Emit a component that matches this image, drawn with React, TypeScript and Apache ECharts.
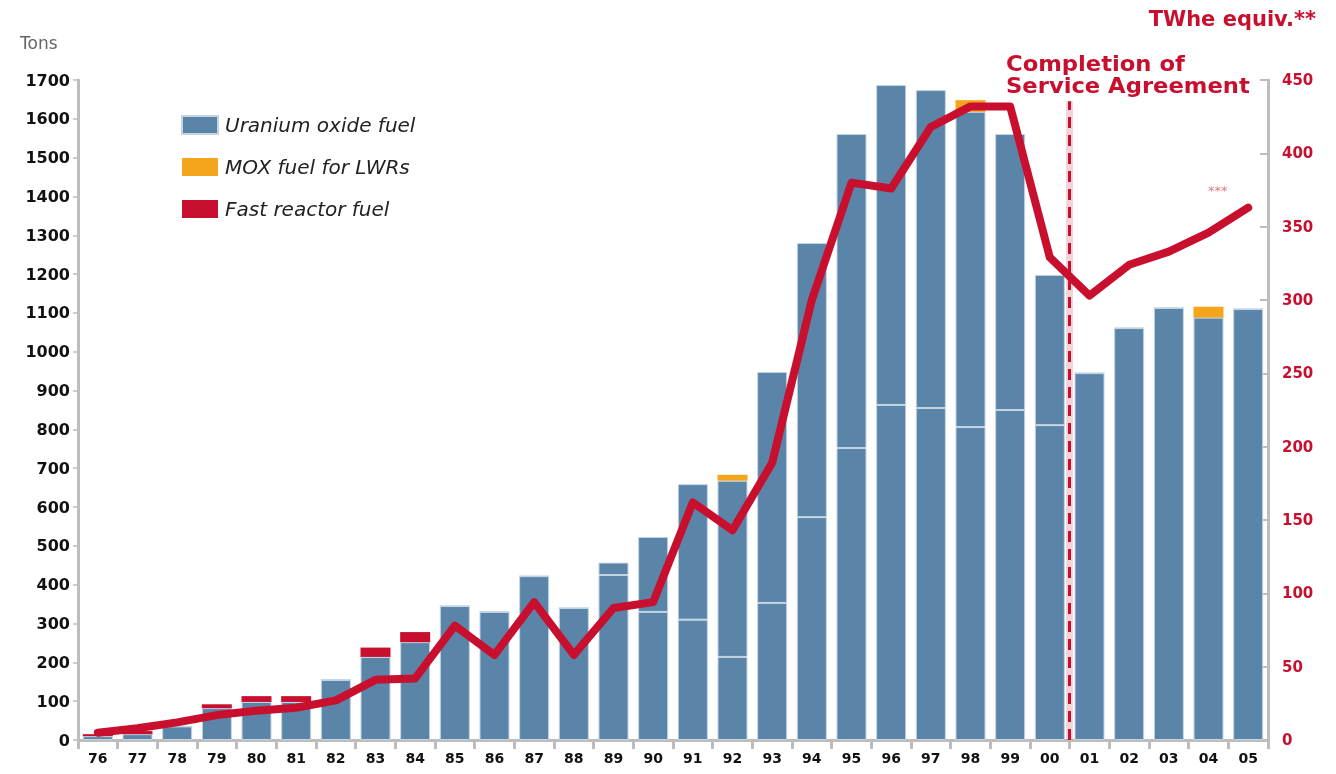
import React, { useEffect, useRef } from 'react';
import * as echarts from 'echarts';

const years = ['76', '77', '78', '79', '80', '81', '82', '83', '84', '85', '86', '87', '88', '89', '90', '91', '92', '93', '94', '95', '96', '97', '98', '99', '00', '01', '02', '03', '04', '05'];

// Tons (left axis)
const uraniumOxide = [10, 15, 35, 82, 98, 98, 155, 214, 252, 345, 330, 422, 340, 457, 523, 659, 668, 948, 1280, 1561, 1687, 1674, 1618, 1561, 1198, 945, 1061, 1113, 1088, 1110];
const uraniumSplit: (number | null)[] = [null, null, null, null, null, null, null, null, null, null, null, null, null, 425, 330, 310, 214, 353, 574, 752, 863, 855, 806, 850, 811, null, null, null, null, null];
const moxFuel = [0, 0, 0, 0, 0, 0, 0, 0, 0, 0, 0, 0, 0, 0, 0, 0, 15, 0, 0, 0, 0, 0, 30, 0, 0, 0, 0, 0, 28, 0];
const fastReactorFuel = [5, 8, 0, 10, 15, 15, 0, 24, 26, 0, 0, 0, 0, 0, 0, 0, 0, 0, 0, 0, 0, 0, 0, 0, 0, 0, 0, 0, 0, 0];

// TWhe equiv. (right axis)
const twheEquiv = [5, 8, 12, 17, 20, 22, 27, 41, 42, 78, 58, 94, 58, 90, 94, 162, 143, 189, 300, 380, 376, 418, 432, 432, 329, 303, 324, 333, 346, 363];

const leftTicks = { min: 0, max: 1700, interval: 100 };
const rightTicks = { min: 0, max: 450, interval: 50 };
const agreementPosition = 24.5; // between '00' and '01'

const BLUE = '#5a84a8';
const ORANGE = '#f4a51c';
const RED = '#c8102e';
const AXIS = '#bdbdbd';
const FONT = '"DejaVu Sans", "Liberation Sans", Arial, sans-serif';

export default function App() {
  const ref = useRef<HTMLDivElement>(null);

  useEffect(() => {
    const chart = echarts.init(ref.current!, null, { renderer: 'svg' });
    const uLower = uraniumOxide.map((v, i) => (uraniumSplit[i] != null ? (uraniumSplit[i] as number) : v));
    const uUpper = uraniumOxide.map((v, i) => (uraniumSplit[i] != null ? v - (uraniumSplit[i] as number) : 0));
    const blueStyle = { color: BLUE, borderColor: '#c3d4e3', borderWidth: 1 };

    chart.setOption({
      animation: false,
      textStyle: { fontFamily: FONT },
      grid: { left: 78, right: 68, top: 80, bottom: 34, containLabel: false },
      legend: {
        left: 176,
        top: 110,
        orient: 'vertical',
        icon: 'rect',
        itemWidth: 36,
        itemHeight: 18,
        itemGap: 22,
        data: ['Uranium oxide fuel', 'MOX fuel for LWRs', 'Fast reactor fuel'],
        textStyle: { fontStyle: 'italic', fontSize: 20, color: '#222', fontFamily: FONT, padding: [0, 0, 0, 2] },
      },
      xAxis: [
        {
          type: 'category',
          data: years,
          axisLine: { lineStyle: { color: AXIS, width: 3 } },
          axisTick: { show: true, length: 9, lineStyle: { color: AXIS, width: 3 } },
          axisLabel: { color: '#111', fontWeight: 'bold', fontSize: 14, margin: 11, fontFamily: FONT },
        },
        { type: 'value', min: -0.5, max: 29.5, show: false },
      ],
      yAxis: [
        {
          type: 'value',
          min: leftTicks.min,
          max: leftTicks.max,
          interval: leftTicks.interval,
          axisLine: { show: true, onZero: false, lineStyle: { color: AXIS, width: 3 } },
          axisTick: { show: true, length: 5, lineStyle: { color: AXIS, width: 1.5 } },
          splitLine: { show: false },
          axisLabel: {
            color: '#111',
            fontWeight: 'bold',
            fontSize: 16,
            margin: 8,
            fontFamily: FONT,
            formatter: (v: number) => String(v),
          },
        },
        {
          type: 'value',
          position: 'right',
          min: rightTicks.min,
          max: rightTicks.max,
          interval: rightTicks.interval,
          axisLine: { show: true, onZero: false, lineStyle: { color: AXIS, width: 3 } },
          axisTick: { show: true, inside: true, length: 8, lineStyle: { color: AXIS, width: 2 } },
          splitLine: { show: false },
          axisLabel: { color: RED, fontWeight: 'bold', fontSize: 15, margin: 14, fontFamily: FONT },
        },
      ],
      series: [
        { name: 'Uranium oxide fuel', type: 'bar', stack: 'fuel', barWidth: 30, data: uLower, itemStyle: blueStyle },
        { name: 'Uranium oxide fuel', type: 'bar', stack: 'fuel', barWidth: 30, data: uUpper, itemStyle: blueStyle },
        { name: 'MOX fuel for LWRs', type: 'bar', stack: 'fuel', barWidth: 30, data: moxFuel, itemStyle: { color: ORANGE } },
        { name: 'Fast reactor fuel', type: 'bar', stack: 'fuel', barWidth: 30, data: fastReactorFuel, itemStyle: { color: RED } },
        {
          name: 'TWhe equiv.',
          type: 'line',
          yAxisIndex: 1,
          data: twheEquiv,
          symbol: 'none',
          z: 5,
          lineStyle: { color: RED, width: 8, cap: 'round', join: 'round' },
        },
        {
          name: 'agreement',
          type: 'line',
          xAxisIndex: 1,
          yAxisIndex: 0,
          data: [],
          symbol: 'none',
          z: 4,
          markLine: {
            silent: true,
            symbol: 'none',
            label: { show: false },
            data: [
              [
                { coord: [agreementPosition, 0], lineStyle: { color: 'rgba(200,16,46,0.18)', width: 7, type: 'solid' } },
                { coord: [agreementPosition, 1645] },
              ],
              [
                { coord: [agreementPosition, 0], lineStyle: { color: RED, width: 3, type: [11, 7] } },
                { coord: [agreementPosition, 1645] },
              ],
            ],
          },
        },
      ],
      graphic: [
        { type: 'text', left: 20, top: 34, style: { text: 'Tons', fontSize: 17, fill: '#666', fontFamily: FONT } },
        {
          type: 'text',
          right: 20,
          top: 8,
          style: { text: 'TWhe equiv.**', fontSize: 21, fontWeight: 'bold', fill: RED, fontFamily: FONT },
        },
        {
          type: 'text',
          x: 1006,
          y: 53,
          scaleX: 1.08,
          style: {
            text: 'Completion of\nService Agreement',
            fontSize: 21,
            lineHeight: 22,
            fontWeight: 'bold',
            fill: RED,
            fontFamily: FONT,
          },
        },
        { type: 'text', left: 1208, top: 184, style: { text: '***', fontSize: 13, fill: '#e07a8a', fontFamily: FONT } },
      ],
    });
    return () => chart.dispose();
  }, []);

  return <div ref={ref} style={{ position: 'fixed', left: 0, top: 0, width: 1336, height: 774 }} />;
}
